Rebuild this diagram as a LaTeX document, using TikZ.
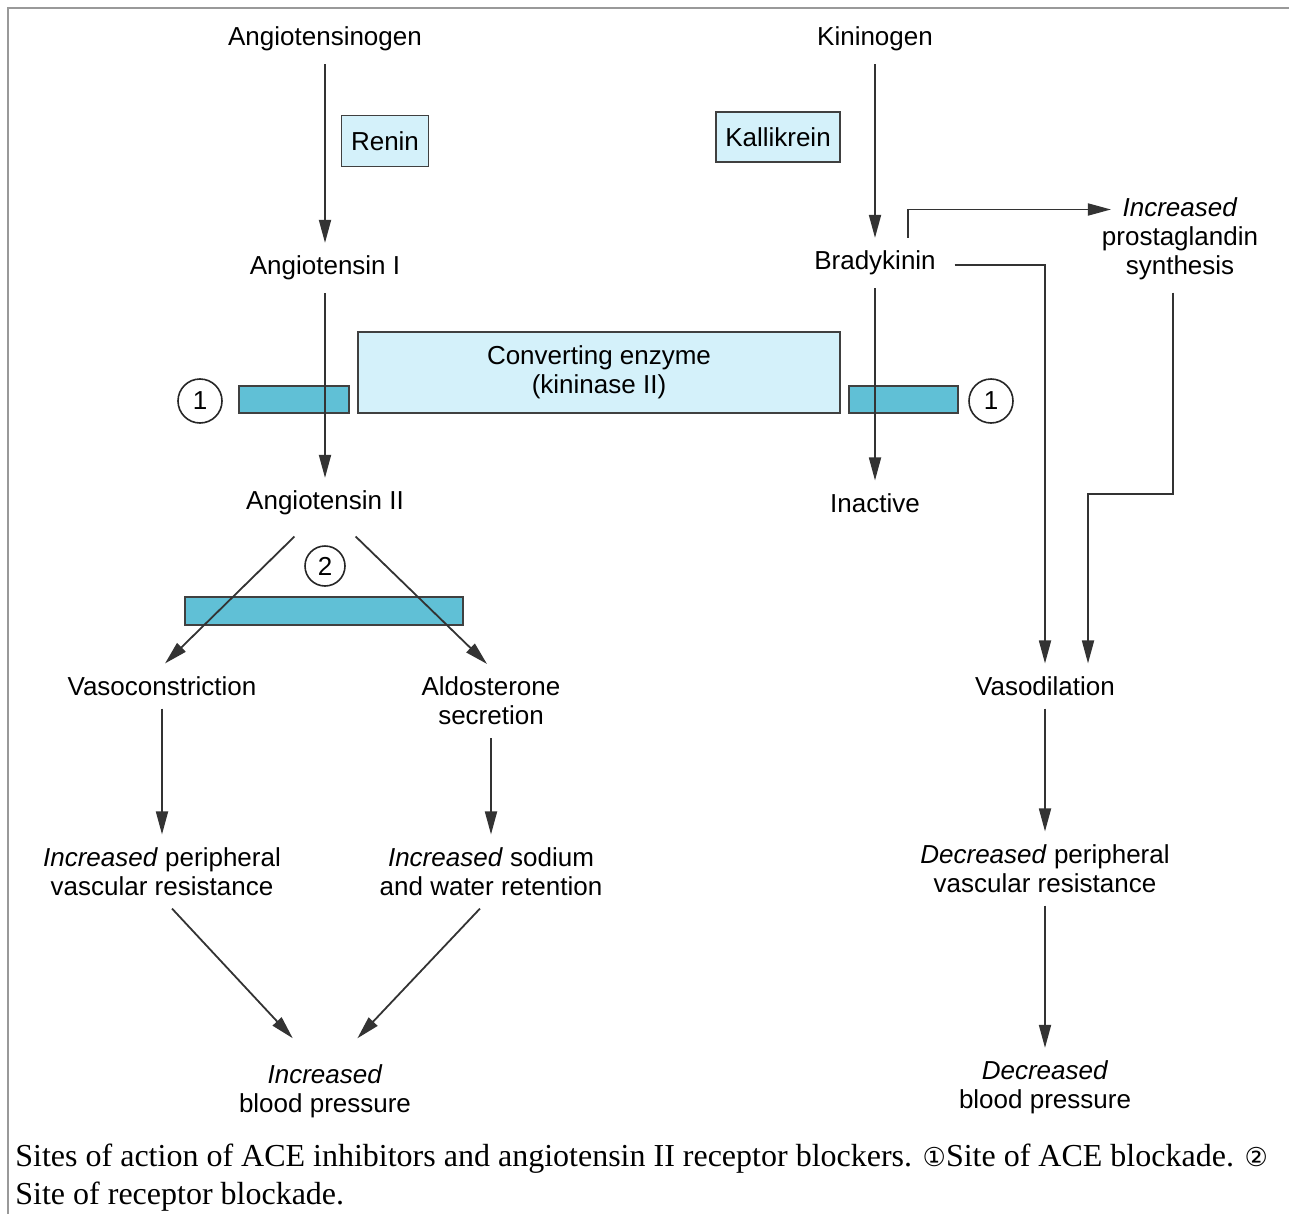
\documentclass[tikz,border=0pt]{standalone}
\usepackage{fontspec}
\setmainfont{Liberation Sans}
\newfontfamily\capfont{Liberation Serif}
\newfontfamily\symfont{DejaVu Sans}
\usetikzlibrary{arrows.meta}

\begin{document}
\begin{tikzpicture}[
		x=0.5pt, y=-0.5pt,
		lbl/.style={font=\fontsize{13}{14.5}\selectfont, align=center, inner sep=1pt, outer sep=5.5pt, yshift=-1pt},
		enz/.style={draw=black!75, line width=0.8pt, fill={rgb,255:red,212;green,241;blue,250},
				font=\fontsize{13}{14.5}\selectfont, align=center, inner sep=2pt},
		blk/.style={draw=black!75, line width=0.8pt, fill={rgb,255:red,96;green,192;blue,214}, inner sep=0pt},
		num/.style={draw=black!85, line width=0.8pt, circle, minimum size=22pt, inner sep=0pt,
				fill=white, font=\fontsize{13}{14.5}\selectfont},
		captext/.style={font=\capfont\fontsize{16}{19}\selectfont, inner sep=0pt, anchor=base west},
		arr/.style={draw=black!80, line width=0.9pt, -{Triangle[length=11.5pt,width=6pt]}}
		]
		\useasboundingbox (0,0) rectangle (1289,1214);
		\draw[black!40, line width=1.2pt] (8,1214) -- (8,8) -- (1289,8);

		% renin-angiotensin side
		\node[lbl] (agen) at (325,37) {Angiotensinogen};
		\node[enz, minimum width=43.5pt, minimum height=25.5pt] (renin) at (385,141) {Renin};
		\node[lbl] (ang1) at (325,266) {Angiotensin I};
		\node[lbl] (ang2) at (325,501) {Angiotensin II};
		\node[lbl] (vaso) at (162,684) {Vasoconstriction};
		\node[lbl] (aldo) at (491,699) {Aldosterone\\secretion};
		\node[lbl] (incperiph) at (162,869.5) {\textit{Increased} peripheral\\vascular resistance};
		\node[lbl] (incsod) at (491,869.5) {\textit{Increased} sodium\\and water retention};
		\node[lbl] (incbp) at (325,1089) {\textit{Increased}\\blood pressure};

		% kinin side
		\node[lbl] (kgen) at (875,37) {Kininogen};
		\node[enz, minimum width=62pt, minimum height=25pt] (kalli) at (778,137) {Kallikrein};
		\node[lbl] (brady) at (875,261) {Bradykinin};
		\node[lbl] (inact) at (875,501) {Inactive};
		\node[lbl] (prost) at (1180,236.5) {\textit{Increased}\\prostaglandin\\synthesis};
		\node[lbl] (vasod) at (1045,684) {Vasodilation};
		\node[lbl] (decperiph) at (1045,866.5) {\textit{Decreased} peripheral\\vascular resistance};
		\node[lbl] (decbp) at (1045,1085.5) {\textit{Decreased}\\blood pressure};

		% enzyme and blockade bars
		\node[enz, minimum width=241pt, minimum height=40.5pt] (ace) at (599,372.5) {Converting enzyme\\(kininase II)};
		\node[blk, minimum width=55pt, minimum height=13.5pt] (blkL) at (294,399.5) {};
		\node[blk, minimum width=54.5pt, minimum height=13.5pt] (blkR) at (903.5,399.5) {};
		\node[blk, minimum width=139pt, minimum height=14pt] (blkA) at (324,611) {};
		\node[num] (siteL) at (200,401) {1};
		\node[num] (siteR) at (991,401) {1};
		\node[num, minimum size=20pt] (siteA) at (325,566) {2};
		\coordinate (join) at (1088,494);

		\foreach \a/\b in {agen/ang1, ang1/ang2, kgen/brady, brady/inact, vaso/incperiph, aldo/incsod, vasod/decperiph, decperiph/decbp}
		\draw[arr] (\a) -- (\b);
		\draw[arr, shorten <=6pt] ([xshift=-11pt]ang2.south) -- ([xshift=1.5pt]vaso.north);
		\draw[arr, shorten <=6pt] ([xshift=11pt]ang2.south) -- ([xshift=-2pt]aldo.north);
		\draw[arr, shorten >=9pt] ([xshift=5pt]incperiph.south) -- ([xshift=-10pt]incbp.north);
		\draw[arr, shorten >=9pt] ([xshift=-5.5pt]incsod.south) -- ([xshift=10pt]incbp.north);
		\draw[arr] ([xshift=16.5pt]brady.north) |- ([xshift=11pt,yshift=14.5pt]prost.west);
		\draw[arr] ([xshift=3pt,yshift=-1pt]brady.east) -| (vasod.north);
		\draw[arr] ([xshift=-3.5pt]prost.south) |- (join) -- (join |- vasod.north);

		% caption
		\node[captext] (cap1) at (15,1166) {Sites of action of ACE inhibitors and angiotensin II receptor blockers. {\symfont\fontsize{13}{14}\selectfont ①}Site of ACE blockade. {\symfont\fontsize{13}{14}\selectfont ②}};
		\node[captext] (cap2) at (15,1204) {Site of receptor blockade.};
	\end{tikzpicture}
\end{document}
